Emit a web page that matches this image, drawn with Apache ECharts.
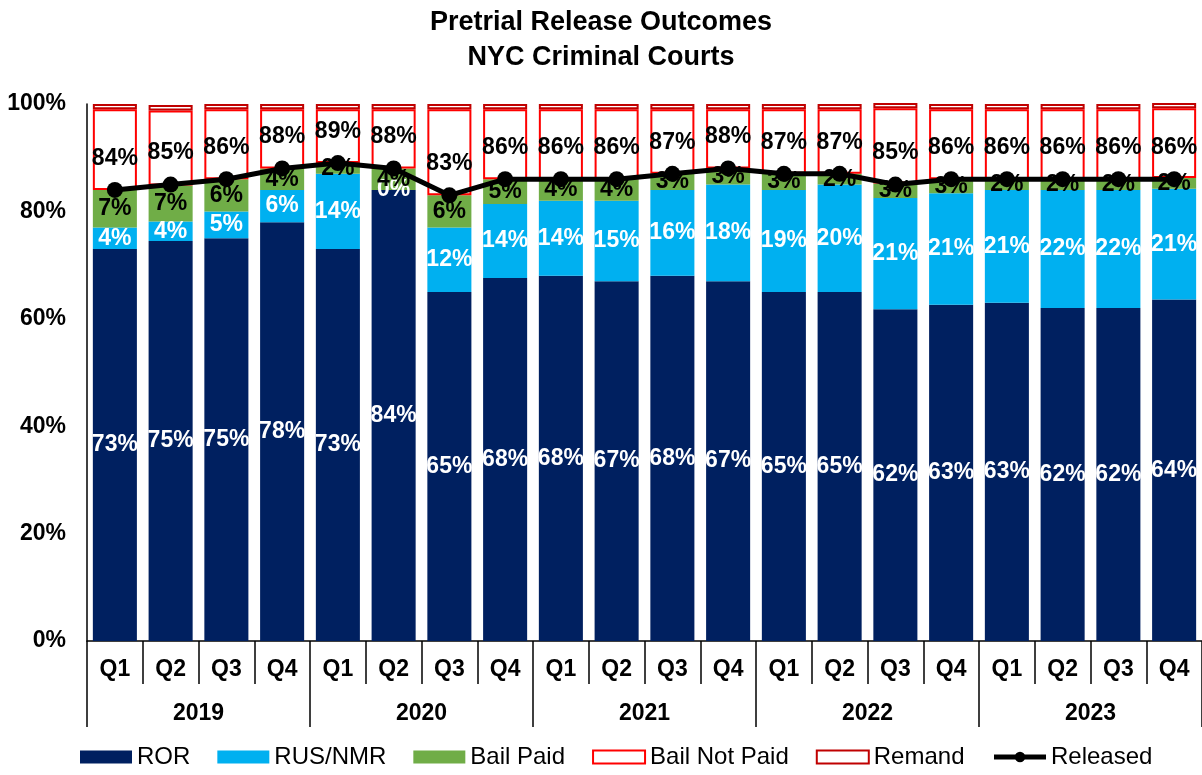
<!DOCTYPE html>
<html>
<head>
<meta charset="utf-8">
<script src="https://cdn.jsdelivr.net/npm/echarts@6/dist/echarts.min.js"></script>
<style>
  html, body { margin: 0; padding: 0; background: #fff; }
  #chart { width: 1202px; height: 775px; }
</style>
</head>
<body>
<div id="chart"></div>
<script>
// 季度和年份
const quarters = ['Q1', 'Q2', 'Q3', 'Q4', 'Q1', 'Q2', 'Q3', 'Q4', 'Q1', 'Q2', 'Q3', 'Q4',
                  'Q1', 'Q2', 'Q3', 'Q4', 'Q1', 'Q2', 'Q3', 'Q4'];
const years = ['2019', '2020', '2021', '2022', '2023'];
const yTicks = [0, 20, 40, 60, 80, 100];

// 各类结果占比 (%)
const ror = [73, 74.5, 75, 78, 73, 84, 65, 67.6, 68, 67, 68, 67, 65, 65, 61.8, 62.6, 63, 62, 62, 63.6];
const rusNmr = [4, 3.6, 5, 6, 14, 0, 12, 13.8, 14, 15, 16, 18, 19, 20, 20.7, 20.8, 21, 22, 22, 20.6];
const bailPaid = [7, 6.7, 6, 4, 2, 4, 6, 4.6, 4, 4, 3, 3, 3, 2, 2.7, 2.6, 2, 2, 2, 2];
const bailNotPaid = [15, 14, 13, 11, 10, 11, 16, 13, 13, 13, 12, 11, 12, 12, 14, 13, 13, 13, 13, 13];
const remand = [1, 1, 1, 1, 1, 1, 1, 1, 1, 1, 1, 1, 1, 1, 1, 1, 1, 1, 1, 1];
const released = [84, 85, 86, 88, 89, 88, 83, 86, 86, 86, 87, 88, 87, 87, 85, 86, 86, 86, 86, 86];

const font = 'Liberation Sans, Arial, sans-serif';
const pct = p => Math.round(p.value) + '%';

const chart = echarts.init(document.getElementById('chart'));

function barLabel(color) {
    return {
        show: true,
        position: 'inside',
        formatter: pct,
        color: color,
        fontFamily: font,
        fontWeight: 'bold',
        fontSize: 23
    };
}

chart.setOption({
    animation: false,
    textStyle: { fontFamily: font },
    title: {
        text: 'Pretrial Release Outcomes\nNYC Criminal Courts',
        left: 'center',
        top: 0,
        textStyle: {
            color: '#000',
            fontFamily: font,
            fontSize: 27,
            fontWeight: 'bold',
            lineHeight: 35
        }
    },
    legend: {
        bottom: 1,
        left: 75,
        itemWidth: 52,
        itemHeight: 13,
        itemGap: 27,
        textStyle: { color: '#000', fontSize: 24, fontFamily: font },
        data: [
            { name: 'ROR', icon: 'rect' },
            { name: 'RUS/NMR', icon: 'rect' },
            { name: 'Bail Paid', icon: 'rect' },
            { name: 'Bail Not Paid', icon: 'rect' },
            { name: 'Remand', icon: 'rect' },
            { name: 'Released', lineStyle: { width: 5 }, itemStyle: { color: '#000' } }
        ]
    },
    grid: {
        top: 104,
        bottom: 134,
        left: 87,
        right: 0
    },
    xAxis: [
        {
            type: 'category',
            data: quarters,
            axisLine: { lineStyle: { color: '#000', width: 1.5 } },
            axisTick: { show: true, interval: 0, length: 43, lineStyle: { color: '#000', width: 1.5 } },
            axisLabel: {
                interval: 0,
                margin: 17,
                color: '#000',
                fontSize: 23,
                fontWeight: 'bold',
                fontFamily: font
            }
        },
        {
            type: 'category',
            data: years,
            position: 'bottom',
            axisLine: { show: false },
            axisTick: { show: true, interval: 0, length: 86, lineStyle: { color: '#000', width: 1.5 } },
            axisLabel: {
                interval: 0,
                margin: 61,
                color: '#000',
                fontSize: 23,
                fontWeight: 'bold',
                fontFamily: font
            }
        }
    ],
    yAxis: {
        type: 'value',
        min: yTicks[0],
        max: yTicks[yTicks.length - 1],
        interval: 20,
        splitLine: { show: false },
        axisTick: { show: false },
        axisLine: { show: true, lineStyle: { color: '#000', width: 1.5 } },
        axisLabel: {
            formatter: '{value}%',
            margin: 21,
            color: '#000',
            fontSize: 23,
            fontWeight: 'bold',
            fontFamily: font
        }
    },
    series: [
        {
            name: 'ROR',
            type: 'bar',
            stack: 'total',
            data: ror,
            barCategoryGap: '21%',
            itemStyle: { color: '#002060' },
            label: barLabel('#fff')
        },
        {
            name: 'RUS/NMR',
            type: 'bar',
            stack: 'total',
            data: rusNmr,
            itemStyle: { color: '#00B0F0' },
            label: barLabel('#fff')
        },
        {
            name: 'Bail Paid',
            type: 'bar',
            stack: 'total',
            data: bailPaid,
            itemStyle: { color: '#70AD47' },
            label: barLabel('#000')
        },
        {
            name: 'Bail Not Paid',
            type: 'bar',
            stack: 'total',
            data: bailNotPaid,
            itemStyle: { color: '#fff', borderColor: '#FF0000', borderWidth: 2 }
        },
        {
            name: 'Remand',
            type: 'bar',
            stack: 'total',
            data: remand,
            itemStyle: { color: '#fff', borderColor: '#C00000', borderWidth: 2 }
        },
        {
            name: 'Released',
            type: 'line',
            data: released,
            z: 5,
            symbol: 'circle',
            symbolSize: 16,
            itemStyle: { color: '#000' },
            lineStyle: { color: '#000', width: 5 },
            label: {
                show: true,
                position: 'top',
                distance: 12,
                formatter: '{c}%',
                color: '#000',
                fontSize: 23,
                fontWeight: 'bold',
                fontFamily: font
            }
        }
    ]
});
</script>
</body>
</html>
